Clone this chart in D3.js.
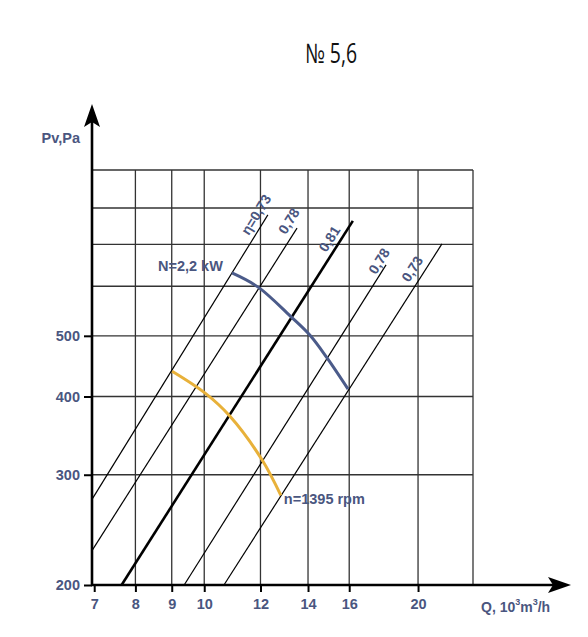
<!DOCTYPE html>
<html>
<head>
<meta charset="utf-8">
<script src="https://cdn.jsdelivr.net/npm/d3@7"></script>
<style>
  body { margin: 0; background: #fff; }
  text { font-family: "Liberation Sans", Arial, sans-serif; }
</style>
</head>
<body>
<div id="chart"></div>
<script>
// fan No 5,6 : pressure / flow, log-log
const qTicks = [7, 8, 9, 10, 12, 14, 16, 20];
const qGrid = [8, 9, 10, 12, 14, 16, 20];
const pTicks = [200, 300, 400, 500];
const pGrid = [300, 400, 500, 600, 700, 800];

// efficiency lines (Q, Pv) start / end
const etaLabels = ["η=0,73", "0,78", "0,81", "0,78", "0,73"];
const etaStart = [[6.95, 274], [6.95, 227], [7.65, 200], [9.37, 200], [10.66, 200]];
const etaEnd = [[12.29, 780], [13.51, 743], [16.19, 763], [18.03, 649], [21.61, 701]];
const etaLabelAt = [[11.55, 722], [13.02, 724], [14.85, 678], [17.45, 625], [19.42, 607]];

// N = 2,2 kW curve
const powerQ = [10.94, 11.91, 13.21, 14.09, 14.89, 15.94];
const powerP = [630, 598, 538, 501, 461, 411];

// n = 1395 rpm curve
const speedQ = [9.01, 10.03, 10.87, 12.06, 12.82];
const speedP = [439, 405, 372, 317, 278];

const W = 588, H = 637;
const labelColor = "#4a5680";

const svg = d3.select("#chart").append("svg")
  .attr("width", W).attr("height", H);

const x = d3.scaleLog().domain([6.95, 23.9]).range([92, 473]);
const y = d3.scaleLog().domain([200, 920]).range([585, 170]);
const [x0, x1] = x.range();
const [y0, y1] = y.range();

// title
svg.append("text")
  .attr("x", 305).attr("y", 63)
  .attr("textLength", 52)
  .attr("lengthAdjust", "spacingAndGlyphs")
  .style("font-family", "'Open Sans', sans-serif")
  .style("font-size", "27px")
  .style("fill", "#111")
  .text("№ 5,6");

// grid
const grid = svg.append("g").attr("stroke", "#333").attr("stroke-width", 1.3);
grid.selectAll("line.v")
  .data(qGrid.concat([x.domain()[1]]))
  .join("line")
  .attr("x1", d => x(d)).attr("x2", d => x(d))
  .attr("y1", y0).attr("y2", y1);
grid.selectAll("line.h")
  .data(pGrid.concat([y.domain()[1]]))
  .join("line")
  .attr("x1", x0).attr("x2", x1)
  .attr("y1", d => y(d)).attr("y2", d => y(d));

// efficiency lines
const eta = svg.append("g");
eta.selectAll("line")
  .data(etaStart)
  .join("line")
  .attr("x1", d => x(d[0])).attr("y1", d => y(d[1]))
  .attr("x2", (d, i) => x(etaEnd[i][0])).attr("y2", (d, i) => y(etaEnd[i][1]))
  .attr("stroke", "#000")
  .attr("stroke-width", (d, i) => i === 2 ? 2.6 : 1.2);

eta.selectAll("text")
  .data(etaLabels)
  .join("text")
  .attr("transform", (d, i) => {
    const a = Math.atan2(y(etaEnd[i][1]) - y(etaStart[i][1]), x(etaEnd[i][0]) - x(etaStart[i][0])) * 180 / Math.PI;
    return `translate(${x(etaLabelAt[i][0])},${y(etaLabelAt[i][1])}) rotate(${a})`;
  })
  .style("font-size", "14px")
  .style("font-weight", "bold")
  .style("fill", labelColor)
  .text(d => d);

// curves
const line = d3.line().curve(d3.curveCatmullRom.alpha(0.5));
svg.append("path")
  .attr("d", line(powerQ.map((q, i) => [x(q), y(powerP[i])])))
  .attr("fill", "none")
  .attr("stroke", "#4b5b8a")
  .attr("stroke-width", 3);
svg.append("path")
  .attr("d", line(speedQ.map((q, i) => [x(q), y(speedP[i])])))
  .attr("fill", "none")
  .attr("stroke", "#e8b13a")
  .attr("stroke-width", 3);

svg.append("text")
  .attr("x", x(powerQ[0]) - 74).attr("y", y(powerP[0]) - 2)
  .style("font-size", "14.5px").style("font-weight", "bold")
  .style("fill", labelColor)
  .text("N=2,2 kW");
svg.append("text")
  .attr("x", x(speedQ[speedQ.length - 1]) + 3).attr("y", y(speedP[speedP.length - 1]) + 9)
  .style("font-size", "14.5px").style("font-weight", "bold")
  .style("fill", labelColor)
  .text("n=1395 rpm");

// axes
const yAxis = svg.append("g")
  .attr("transform", `translate(${x0},0)`)
  .call(d3.axisLeft(y).tickValues(pTicks).tickSize(8).tickPadding(4).tickFormat(d3.format("d")));
const xAxis = svg.append("g")
  .attr("transform", `translate(0,${y0})`)
  .call(d3.axisBottom(x).tickValues(qTicks).tickSize(7).tickPadding(4).tickFormat(d3.format("d")));
[yAxis, xAxis].forEach(a => {
  a.select(".domain").remove();
  a.selectAll(".tick line").attr("stroke", "#000").attr("stroke-width", 2);
  a.selectAll(".tick text")
    .style("font-family", "'Liberation Sans', Arial, sans-serif")
    .style("font-size", "14.5px").style("font-weight", "bold")
    .style("fill", labelColor);
});
xAxis.selectAll(".tick text").attr("dy", "0.9em");

svg.append("line")
  .attr("x1", x0).attr("x2", x0).attr("y1", y0 + 1).attr("y2", 120)
  .attr("stroke", "#000").attr("stroke-width", 2.6);
svg.append("path")
  .attr("d", `M${x0},104 L${x0 + 8},127 L${x0},122 L${x0 - 8},127 Z`)
  .attr("fill", "#000");
svg.append("line")
  .attr("x1", x0 - 1).attr("x2", 555).attr("y1", y0).attr("y2", y0)
  .attr("stroke", "#000").attr("stroke-width", 2.6);
svg.append("path")
  .attr("d", `M571,${y0} L548,${y0 - 8} L553,${y0} L548,${y0 + 8} Z`)
  .attr("fill", "#000");

// axis titles
svg.append("text")
  .attr("x", 80).attr("y", 143)
  .attr("text-anchor", "end")
  .style("font-size", "14.5px").style("font-weight", "bold")
  .style("fill", labelColor)
  .text("Pv,Pa");

const qt = svg.append("text")
  .attr("x", 481).attr("y", 612)
  .style("font-size", "14px").style("font-weight", "bold")
  .style("fill", labelColor);
qt.append("tspan").text("Q, 10");
qt.append("tspan").attr("dy", -7).style("font-size", "9px").text("3");
qt.append("tspan").attr("dy", 7).text("m");
qt.append("tspan").attr("dy", -7).style("font-size", "9px").text("3");
qt.append("tspan").attr("dy", 7).text("/h");
</script>
</body>
</html>
